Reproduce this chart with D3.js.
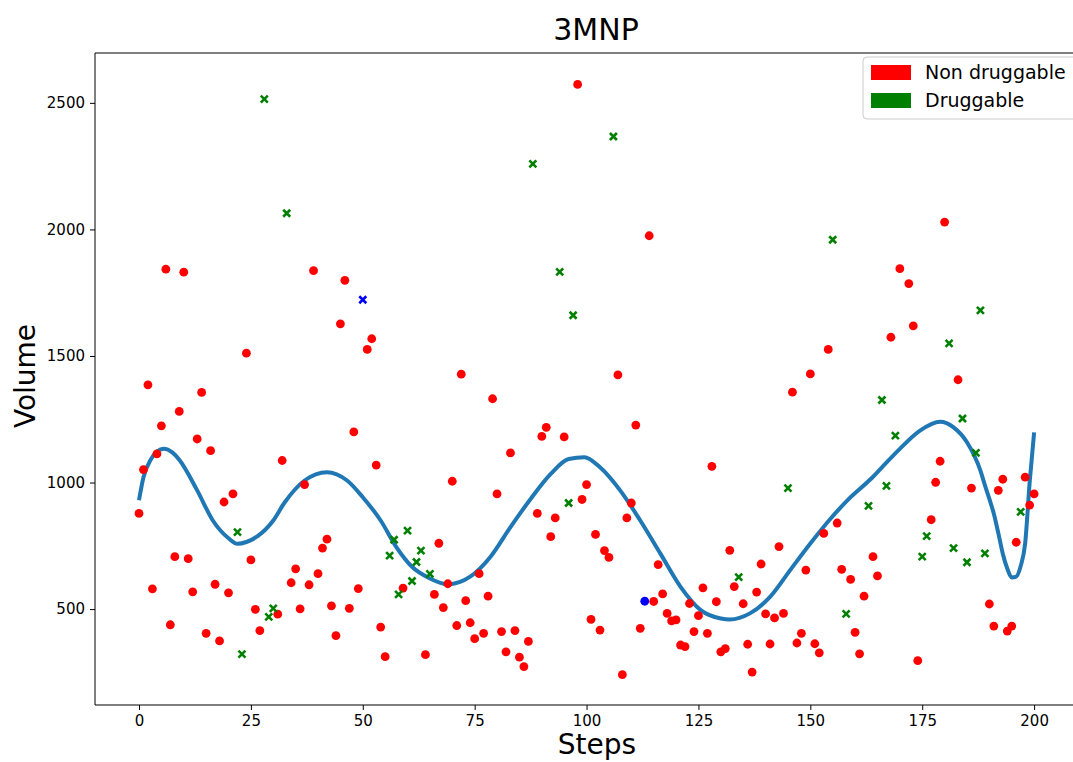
<!DOCTYPE html>
<html>
<head>
<meta charset="utf-8">
<script src="https://cdn.jsdelivr.net/npm/d3@7"></script>
<style>
  body { margin: 0; background: #fff; overflow: hidden; }
  svg { display: block; overflow: hidden; }
  text { font-family: "DejaVu Sans", sans-serif; fill: #000; }
</style>
</head>
<body>
<div class="chart-container"></div>
<script>
// Non druggable points (red)
const nonDruggableSteps = [0,1,2,3,4,5,6,7,8,9,10,11,12,13,14,15,16,17,18,19,20,21,24,25,26,27,31,32,34,35,36,37,38,39,40,41,42,43,44,45,46,47,48,49,51,52,53,54,55,59,64,66,67,68,69,70,71,72,73,74,75,76,77,78,79,80,81,82,83,84,85,86,87,89,90,91,92,93,95,98,99,100,101,102,103,104,105,107,108,109,110,111,112,114,115,116,117,118,119,120,121,122,123,124,125,126,127,128,129,130,131,132,133,135,136,137,138,139,140,141,142,143,144,146,147,148,149,150,151,152,153,154,156,157,159,160,161,162,164,165,168,170,172,173,174,177,178,179,180,183,186,190,191,192,193,194,195,196,198,199,200];
const nonDruggableVolumes = [878,1051,1386,580,1113,1224,1843,438,707,1281,1831,699,568,1172,1356,404,1126,598,374,923,564,955,1511,694,499,415,480,1087,604,659,501,992,596,1837,640,741,776,513,395,1627,1799,503,1200,581,1526,1568,1069,429,312,583,320,558,760,506,600,1005,435,1428,533,446,383,640,404,551,1331,955,411,331,1117,415,310,273,372,878,1182,1218,786,860,1180,2573,933,992,459,795,417,731,704,1425,241,860,919,1227,424,1975,530,676,560,483,453,457,358,352,522,411,474,584,404,1064,529,331,344,732,589,521,361,251,567,678,481,362,465,747,483,1357,366,404,654,1429,363,327,799,1526,840,657,617,408,323,551,707,631,1574,1845,1786,1619,296,853,1001,1084,2029,1406,978,520,433,969,1013,413,433,764,1021,911,955];

// Druggable points (green crosses)
const druggableSteps = [22,23,28,29,30,33,56,57,58,60,61,62,63,65,88,94,96,97,106,134,145,155,158,163,166,167,169,175,176,181,182,184,185,187,188,189,197];
const druggableVolumes = [804,322,2515,469,503,2064,711,774,558,810,611,686,731,639,2259,1832,919,1661,2367,626,978,1959,481,908,1326,987,1185,707,788,1550,741,1253,685,1117,1680,720,884];

// highlighted points (blue)
const blueCrossSteps = [50];
const blueCrossVolumes = [1722];
const blueDotSteps = [113];
const blueDotVolumes = [531];

// smoothed trend line
const trendSteps = [0,1,2.5,5.5,7.5,9,13,16.5,20,22,24,26.5,30,32.5,37,42,46.5,50,54,57.5,61,65,69,74,78.5,83,87.5,92,96,99.5,103,107.5,112,116.5,121,125.5,130,132,136.5,141,145.5,150,154.5,159,163.5,166,170,174.5,179,182,185,188,189,190,191,192,193,194,195,196,197,198,199,200];
const trendVolumes = [930,1021,1087,1133,1118,1090,969,850,780,758,765,788,850,920,1008,1041,1008,942,850,745,667,621,598,628,706,824,935,1034,1093,1100,1060,969,850,719,588,496,463,459,483,548,654,759,857,942,1014,1060,1133,1205,1240,1218,1159,1047,990,935,877,800,719,660,625,628,670,760,1000,1198];

const xTicks = [0,25,50,75,100,125,150,175,200];
const yTicks = [500,1000,1500,2000,2500];

const W = 1073, H = 762;
const margin = {top: 53, left: 95},
    width = 1002,
    height = 652;

const svg = d3.select(".chart-container")
    .append("svg")
    .attr("width", W)
    .attr("height", H);

const g = svg.append("g")
    .attr("transform", `translate(${margin.left},${margin.top})`);

const x = d3.scaleLinear()
    .domain([-9.83, 214.05])
    .range([0, width]);

const y = d3.scaleLinear()
    .domain([121, 2697])
    .range([height, 0]);

// axes
const xAxis = g.append("g")
    .attr("transform", `translate(0,${height})`)
    .call(d3.axisBottom(x).tickValues(xTicks).tickFormat(d3.format("d")).tickSize(5).tickPadding(5));
const yAxis = g.append("g")
    .call(d3.axisLeft(y).tickValues(yTicks).tickFormat(d3.format("d")).tickSize(5).tickPadding(5));
[xAxis, yAxis].forEach(a => {
    a.select(".domain").remove();
    a.selectAll("line").attr("stroke", "#000").attr("stroke-width", 1);
    a.selectAll("text").style("font-size", "15px").attr("fill", "#000");
});

// frame (right spine falls outside the picture)
g.append("path")
    .attr("d", `M${width},0H0V${height}H${width}`)
    .attr("fill", "none")
    .attr("stroke", "#000")
    .attr("stroke-width", 1);

// trend line
const trend = trendSteps.map((s, i) => [s, trendVolumes[i]]);
g.append("path")
    .datum(trend)
    .attr("fill", "none")
    .attr("stroke", "#1f77b4")
    .attr("stroke-width", 4)
    .attr("stroke-linejoin", "round")
    .attr("d", d3.line().x(d => x(d[0])).y(d => y(d[1])).curve(d3.curveMonotoneX));

// dots
function dots(steps, vols, color) {
    g.append("g").selectAll("circle")
        .data(steps.map((s, i) => [s, vols[i]]))
        .enter()
        .append("circle")
        .attr("cx", d => x(d[0]))
        .attr("cy", d => y(d[1]))
        .attr("r", 4.4)
        .attr("fill", color);
}
function crosses(steps, vols, color) {
    const s = 3.5;
    g.append("g").selectAll("path")
        .data(steps.map((st, i) => [st, vols[i]]))
        .enter()
        .append("path")
        .attr("d", d => {
            const cx = x(d[0]), cy = y(d[1]);
            return `M${cx - s},${cy - s}L${cx + s},${cy + s}M${cx - s},${cy + s}L${cx + s},${cy - s}`;
        })
        .attr("stroke", color)
        .attr("stroke-width", 2.6)
        .attr("fill", "none");
}
dots(nonDruggableSteps, nonDruggableVolumes, "red");
crosses(druggableSteps, druggableVolumes, "green");
crosses(blueCrossSteps, blueCrossVolumes, "blue");
dots(blueDotSteps, blueDotVolumes, "blue");

// title and labels
svg.append("text")
    .attr("x", margin.left + width / 2)
    .attr("y", 40)
    .attr("text-anchor", "middle")
    .style("font-size", "30px")
    .text("3MNP");
svg.append("text")
    .attr("x", 597)
    .attr("y", 754)
    .attr("text-anchor", "middle")
    .style("font-size", "28px")
    .text("Steps");
svg.append("text")
    .attr("transform", "translate(35,376) rotate(-90)")
    .attr("text-anchor", "middle")
    .style("font-size", "28px")
    .text("Volume");

// legend
const leg = svg.append("g").attr("transform", "translate(863,57)");
leg.append("rect")
    .attr("width", 230).attr("height", 62)
    .attr("rx", 4)
    .attr("fill", "#fff")
    .attr("fill-opacity", 0.8)
    .attr("stroke", "#ccc");
const legendLabels = ["Non druggable", "Druggable"];
const legendColors = ["red", "green"];
legendLabels.forEach((lab, i) => {
    leg.append("rect")
        .attr("x", 8).attr("y", 8 + i * 28)
        .attr("width", 40).attr("height", 15)
        .attr("fill", legendColors[i]);
    leg.append("text")
        .attr("x", 62).attr("y", 22 + i * 28)
        .style("font-size", "19px")
        .text(lab);
});
</script>
</body>
</html>
